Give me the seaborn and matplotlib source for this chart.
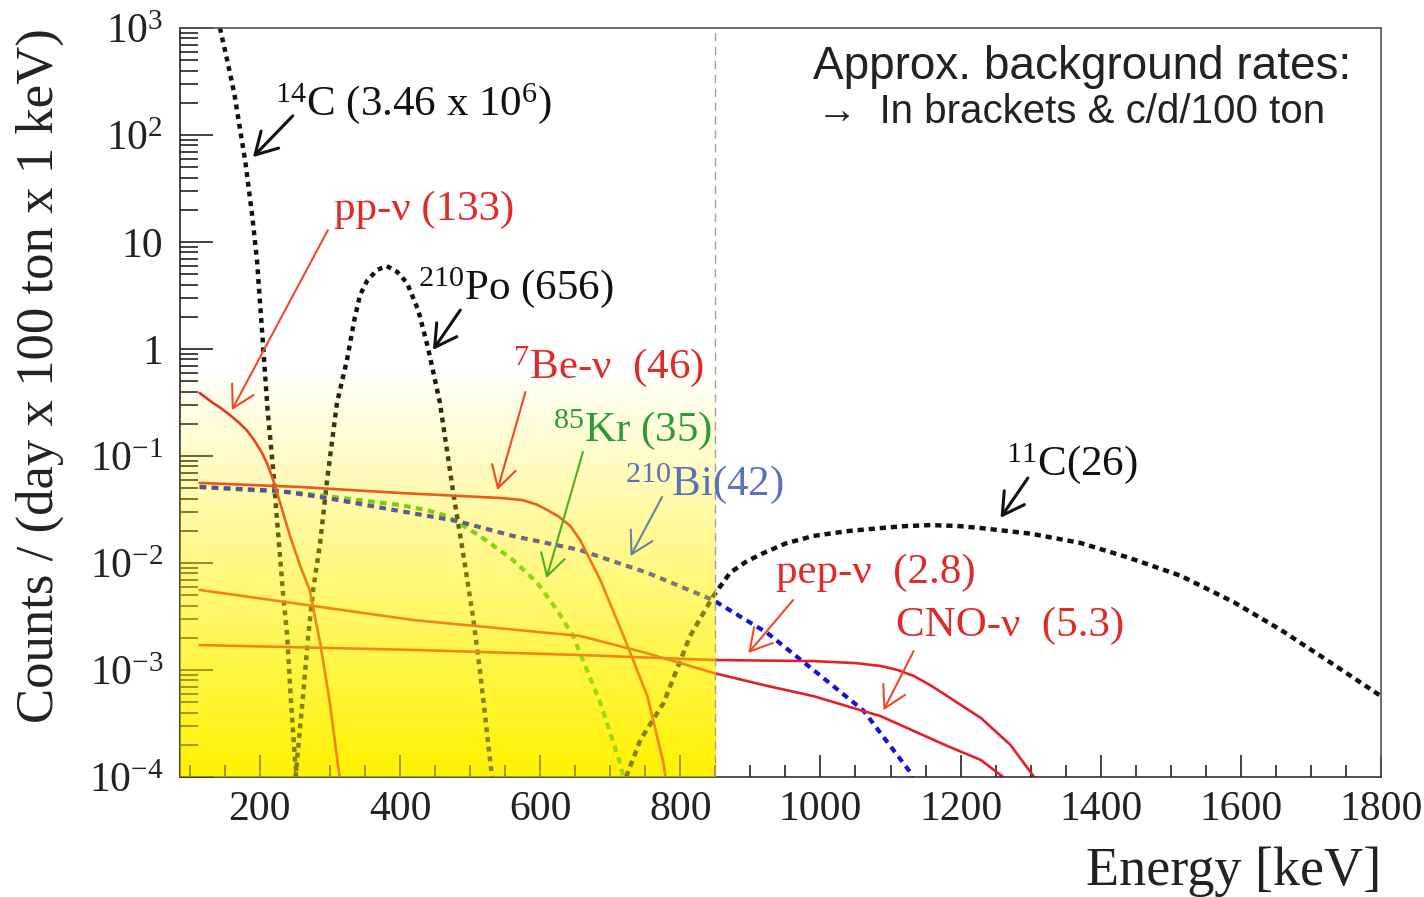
import numpy as np
import pandas as pd
import matplotlib
matplotlib.use("Agg")
import matplotlib.pyplot as plt
import seaborn as sns
from matplotlib.ticker import FixedLocator, FixedFormatter, MultipleLocator, LogLocator, NullFormatter

# ---------------- data ----------------
c14_x = [143, 154, 164, 172, 179, 189, 196, 203, 211, 219, 224, 233, 239, 243, 250, 255]
c14_y = [1000, 480, 234, 110, 57.5, 17.8, 6.6, 1.51, 0.269, 0.0740, 0.0275, 0.00525, 0.00209, 7.1e-4, 1.45e-4, 8e-5]

po_x = [251, 254, 261, 269, 276, 286, 296, 310, 324, 335, 343, 353, 367, 381, 396, 410, 426, 440, 457, 476, 490, 504, 514, 529, 533]
po_y = [1.0e-4, 1.67e-4, 5.2e-4, 2.08e-3, 5.6e-3, 0.0154, 0.0597, 0.313, 0.773, 1.9, 3.2, 4.33, 5.47, 5.97, 5.25,
        4.14, 2.31, 1.02, 0.313, 0.0451, 0.0124, 3.2e-3, 1.0e-3, 1.35e-4, 8e-5]

pp_x = [114, 133, 145, 157, 169, 181, 192, 203, 211, 219, 231, 243, 257, 271, 286, 300, 311, 316]
pp_y = [0.388, 0.313, 0.278, 0.242, 0.208, 0.175, 0.140, 0.107, 0.083, 0.0597, 0.0327, 0.0179, 9.6e-3, 5.6e-3,
        1.79e-3, 4.9e-4, 1.35e-4, 8e-5]

be7_x = [114, 257, 400, 543, 574, 595, 610, 627, 643, 657, 686, 719, 753, 776, 781]
be7_y = [0.056, 0.0513, 0.0451, 0.0405, 0.0388, 0.0352, 0.0313, 0.0270, 0.0222, 0.0164, 6.9e-3, 2.08e-3, 5.7e-4, 1.35e-4, 8e-5]

kr85_x = [114, 257, 400, 440, 467, 514, 561, 596, 624, 647, 686, 714, 722]
kr85_y = [0.0513, 0.0451, 0.0348, 0.0310, 0.0275, 0.0179, 0.0107, 6.5e-3, 3.64e-3, 2.08e-3, 4.9e-4, 1.35e-4, 8e-5]

bi210_x = [114, 229, 300, 371, 481, 561, 657, 753, 847, 924, 990, 1061, 1129, 1134]
bi210_y = [0.0513, 0.0471, 0.0400, 0.0330, 0.0247, 0.0179, 0.0132, 8.1e-3, 4.5e-3, 2.22e-3, 1.0e-3, 4.2e-4, 1.09e-4, 8e-5]

c11_x = [717, 743, 776, 814, 847, 871, 895, 919, 950, 990, 1040, 1086, 1120, 1157, 1195, 1229, 1300, 1371, 1440, 1514, 1590, 1657, 1730, 1800]
c11_y = [8e-5, 2.22e-4, 4.9e-4, 2.08e-3, 4.9e-3, 8.1e-3, 0.0104, 0.0124, 0.0152, 0.0179, 0.0199, 0.0212, 0.0221, 0.0226,
         0.0222, 0.0212, 0.0188, 0.0154, 0.0112, 7.6e-3, 4.3e-3, 2.37e-3, 1.15e-3, 5.7e-4]

pep_x = [114, 419, 657, 847, 990, 1050, 1086, 1110, 1133, 1157, 1181, 1205, 1229, 1271, 1316]
pep_y = [1.71e-3, 1.54e-3, 1.38e-3, 1.24e-3, 1.21e-3, 1.16e-3, 1.09e-3, 1.0e-3, 8.8e-4, 7.2e-4, 5.7e-4, 4.5e-4,
         3.56e-4, 2.0e-4, 8e-5]

cno_x = [114, 419, 657, 750, 847, 920, 990, 1086, 1181, 1229, 1280]
cno_y = [5.6e-3, 2.93e-3, 2.08e-3, 1.45e-3, 9.4e-4, 7.2e-4, 5.7e-4, 3.7e-4, 1.95e-4, 1.44e-4, 8e-5]

xtick_vals = [200, 400, 600, 800, 1000, 1200, 1400, 1600, 1800]
ytick_vals = [1e-4, 1e-3, 1e-2, 1e-1, 1, 10, 100, 1000]
ytick_labels = ['$10^{-4}$', '$10^{-3}$', '$10^{-2}$', '$10^{-1}$', '1', '10', '$10^{2}$', '$10^{3}$']

labels = [r'$^{14}$C (3.46 x 10$^{6}$)', 'pp-ν (133)', r'$^{210}$Po (656)', r'$^{7}$Be-ν  (46)',
          r'$^{85}$Kr (35)', r'$^{210}$Bi(42)', r'$^{11}$C(26)', 'pep-ν  (2.8)', 'CNO-ν  (5.3)']
label_pos = [(221, 154), (306, 16.1), (426, 2.93), (561, 0.536), (619, 0.138), (721, 0.0433),
             (1265, 0.0664), (937, 6.5e-3), (1108, 2.08e-3)]
arrow_tail = [(247, 151), (297, 12.9), (486, 2.31), (579, 0.396), (661, 0.109), (774, 0.0414),
              (1296, 0.0622), (961, 4.5e-3), (1133, 1.5e-3)]
arrow_tip = [(190, 62), (160, 0.269), (447, 0.98), (539, 0.048), (609, 7.2e-3), (729, 0.0116),
             (1257, 0.0264), (897, 1.44e-3), (1090, 4.2e-4)]

x_range = (86, 1800)
y_range = (1e-4, 1e3)
roi_edge = 850

# ---------------- style ----------------
sns.set_style("white")
plt.rcParams['font.family'] = ['Liberation Serif', 'DejaVu Serif']
plt.rcParams['mathtext.fontset'] = 'custom'
plt.rcParams['mathtext.rm'] = 'Liberation Serif'
plt.rcParams['mathtext.it'] = 'Liberation Serif:italic'
plt.rcParams['mathtext.bf'] = 'Liberation Serif:bold'
plt.rcParams['mathtext.default'] = 'regular'

RED = '#e2202a'
BLACK = '#111111'
BLUE = '#1414d8'
GREEN = '#3cbf1e'
YELLOW = np.array([1.0, 0.95, 0.0])

fig = plt.figure(figsize=(14.24, 8.97), dpi=100)
ax = fig.add_axes([0.1264, 0.1338, 0.8434, 0.835])
ax.set_yscale('log')

def draw(x, y, color, lw, ls, z=2):
    sns.lineplot(x=x, y=y, ax=ax, color=color, lw=lw, linestyle=ls, estimator=None, sort=False, zorder=z)

draw(c14_x, c14_y, BLACK, 3.2, (0, (1.1, 1.1)))
draw(po_x, po_y, BLACK, 3.2, (0, (1.1, 1.1)))
draw(c11_x, c11_y, BLACK, 3.2, (0, (1.4, 1.1)))
draw(kr85_x, kr85_y, GREEN, 3.0, (0, (1.6, 1.3)))
draw(bi210_x, bi210_y, BLUE, 3.0, (0, (1.6, 1.3)))
draw(pp_x, pp_y, RED, 1.9, '-')
draw(be7_x, be7_y, RED, 1.9, '-')
draw(pep_x, pep_y, RED, 1.9, '-')
draw(cno_x, cno_y, RED, 1.9, '-')

# yellow region: underlay (below curves) + translucent overlay (above curves)
N = 400
tc = (np.arange(N) + 0.5) / N
target = np.clip(1 - tc / 0.55, 0, 1)
a_o = np.minimum(0.5 * np.clip((0.58 - tc) / 0.35, 0, 1), target)
a_u = np.clip(1 - (1 - target) / (1 - a_o), 0, 1)
under = np.zeros((N, 2, 4)); under[:, :, :3] = YELLOW; under[:, :, 3] = a_u[:, None]
over = np.zeros((N, 2, 4)); over[:, :, :3] = YELLOW; over[:, :, 3] = a_o[:, None]
frac = (roi_edge - x_range[0]) / (x_range[1] - x_range[0])
for img, z in ((under, 0.5), (over, 3)):
    ax.imshow(img, extent=(0, frac, 0, 1), transform=ax.transAxes, origin='lower',
              aspect='auto', interpolation='bilinear', zorder=z)

ax.set_xlim(*x_range)
ax.set_ylim(*y_range)

ax.axvline(roi_edge, color='#a0a0a0', lw=1.0, ls=(0, (6, 4)), zorder=3.5)

# ticks
ax.yaxis.set_major_locator(FixedLocator(ytick_vals))
ax.yaxis.set_major_formatter(FixedFormatter(ytick_labels))
ax.yaxis.set_minor_locator(LogLocator(base=10, subs=np.arange(2, 10)))
ax.yaxis.set_minor_formatter(NullFormatter())
ax.xaxis.set_major_locator(FixedLocator(xtick_vals))
ax.xaxis.set_minor_locator(MultipleLocator(50))
ax.set_xticklabels([str(v) for v in xtick_vals])

ax.tick_params(axis='both', which='both', direction='in', colors='#222222', labelsize=30,
               left=True, bottom=True, top=False, right=False, width=1.2)
ax.tick_params(axis='y', which='major', length=24, pad=12)
ax.tick_params(axis='y', which='minor', length=13)
ax.tick_params(axis='x', which='major', length=16, pad=10)
ax.tick_params(axis='x', which='minor', length=9)

for s in ax.spines.values():
    s.set_color('#555555')
    s.set_linewidth(1.2)
    s.set_visible(True)
ax.spines['left'].set_color('#222222')
ax.spines['bottom'].set_color('#333333')

ax.set_xlabel('Energy [keV]', fontsize=39, loc='right', labelpad=12, color='#222222')
ax.set_ylabel('Counts / (day x 100 ton x 1 keV)', fontsize=38, loc='top', labelpad=18, color='#222222')

# annotations
text_colors = [BLACK, '#e02a2a', BLACK, '#e02a2a', '#2e9a35', '#5a72b8', BLACK, '#e02a2a', '#e02a2a']
arrow_colors = [BLACK, '#ee4a2a', BLACK, '#ee4a2a', '#4cb025', '#6a8498', BLACK, '#ee4a2a', '#ee4a2a']
arrow_lw = [2.2, 1.5, 2.2, 1.5, 1.5, 1.5, 2.2, 1.5, 1.5]
for lab, pos, tail, tip, tcol, acol, alw in zip(labels, label_pos, arrow_tail, arrow_tip, text_colors, arrow_colors, arrow_lw):
    ax.text(pos[0], pos[1], lab, color=tcol, fontsize=31, ha='left', va='baseline', zorder=6)
    ax.annotate('', xy=tip, xytext=tail,
                arrowprops=dict(arrowstyle='->,head_length=0.7,head_width=0.4', color=acol, lw=alw,
                                shrinkA=0, shrinkB=0, mutation_scale=22), zorder=6)

ax.text(0.527, 0.948, 'Approx. background rates:', transform=ax.transAxes, fontsize=33,
        family=['Liberation Sans', 'DejaVu Sans'], ha='left', va='center', color='#222222', zorder=6)
ax.text(0.530, 0.888, '→  In brackets & c/d/100 ton', transform=ax.transAxes, fontsize=29,
        family=['Liberation Sans', 'DejaVu Sans'], ha='left', va='center', color='#222222', zorder=6)

fig.savefig('out.png', dpi=100, facecolor='white')
